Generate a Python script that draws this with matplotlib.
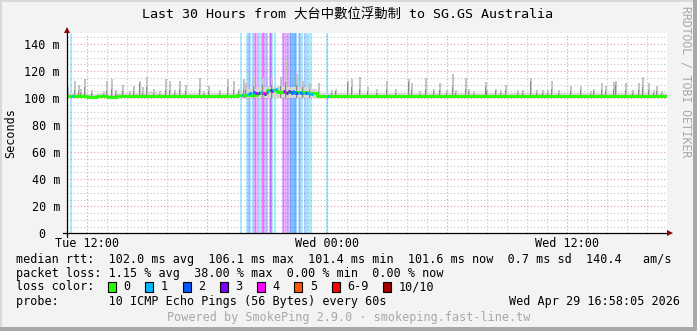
import matplotlib
matplotlib.use("Agg")
import matplotlib.pyplot as plt
from matplotlib.patches import Rectangle
import numpy as np

# ---- data: hours since Tue 11:00, latency in ms ----
# median rtt, one value every 30 min
median_ms = [
    101.3, 101.3, 101.2, 101.3, 101.2, 101.3, 101.8, 101.9, 101.8, 101.8,
    101.4, 101.8, 101.9, 101.4, 101.8, 101.4, 101.8, 102.0, 102.3, 104.0,
    105.8, 104.6, 104.5, 104.2, 103.6, 101.8, 101.6, 101.5, 101.6, 101.5,
    101.6, 101.4, 101.5, 101.6, 101.5, 101.6, 101.5, 101.4, 101.5, 101.6,
    101.5, 101.5, 101.6, 101.4, 101.5, 101.6, 101.5, 101.5, 101.4, 101.5,
    101.6, 101.3, 101.5, 101.6, 101.5, 101.6, 101.5, 101.4, 101.5, 101.6,
    101.6,
]
# upper edge of the continuous smoke band, every 30 min
smoke_band_ms = [
    103.5, 103.8, 103.2, 103.6, 103.4, 103.8, 104.0, 103.9, 104.2, 103.8,
    103.6, 104.0, 104.1, 103.6, 104.0, 103.7, 104.0, 104.5, 106.5, 108.0,
    108.5, 109.0, 108.5, 108.0, 107.0, 104.0, 103.8, 103.7, 103.9, 103.6,
    103.8, 103.6, 103.7, 103.9, 103.6, 103.8, 103.7, 103.5, 103.8, 103.9,
    103.6, 103.7, 103.9, 103.5, 103.6, 103.8, 103.7, 103.6, 103.5, 103.7,
    103.8, 103.5, 103.7, 103.9, 103.6, 103.8, 103.7, 103.5, 103.7, 103.8,
    103.8,
]
# smoke spikes: time, highest ping, dark inner part
spike_hours = [
    0.05, 0.4, 0.6, 0.7, 0.9, 1.25, 1.85, 2.0, 2.25, 2.45,
    2.8, 3.15, 3.35, 3.65, 3.8, 4.0, 4.35, 4.65, 4.95, 5.15,
    5.4, 5.65, 5.95, 6.65, 6.85, 7.1, 7.65, 8.05, 8.35, 8.6,
    8.85, 8.95, 9.35, 9.8, 10.25, 10.7, 10.95, 11.5, 11.8, 12.15,
    12.6, 13.25, 13.45, 14.05, 14.25, 14.65, 15.05, 15.5, 16.0, 16.45,
    17.1, 17.25, 17.65, 17.95, 18.35, 18.65, 19.0, 19.3, 19.45, 19.95,
    20.1, 20.35, 20.95, 21.0, 21.45, 21.7, 21.95, 22.55, 22.8, 23.2,
    23.5, 23.8, 24.05, 24.25, 24.6, 25.2, 25.7, 26.2, 26.35, 26.75,
    26.95, 27.35, 27.45, 27.95, 28.3, 28.6, 28.8, 29.1, 29.35, 29.5,
    29.75,
]
spike_top_ms = [
    108.0, 112.6, 110.0, 107.0, 114.0, 106.0, 105.0, 112.6, 114.0, 106.0,
    110.0, 105.0, 109.0, 113.0, 108.0, 115.8, 107.0, 105.0, 114.0, 112.6,
    106.0, 113.0, 110.0, 114.6, 105.0, 109.0, 106.0, 114.0, 113.0, 107.0,
    114.0, 111.0, 115.6, 114.6, 114.6, 115.6, 130.0, 118.0, 113.0, 111.0,
    111.0, 106.0, 107.0, 113.0, 114.0, 116.0, 108.0, 107.0, 113.0, 107.0,
    114.0, 111.0, 105.0, 114.6, 107.0, 111.0, 106.0, 117.6, 106.0, 115.0,
    107.0, 105.0, 112.0, 107.0, 107.0, 106.0, 110.0, 106.0, 106.0, 114.6,
    106.0, 106.0, 106.0, 113.0, 106.0, 109.0, 109.0, 105.0, 107.0, 111.0,
    109.0, 112.0, 113.0, 111.0, 106.0, 111.0, 116.0, 111.0, 106.0, 109.0,
    105.0,
]
spike_dark_ms = [
    104.0, 106.0, 105.0, 104.0, 108.0, 104.0, 103.0, 105.0, 107.0, 104.0,
    105.0, 103.0, 105.0, 111.0, 104.0, 108.0, 104.0, 103.0, 106.0, 106.0,
    104.0, 107.0, 105.0, 107.0, 103.0, 105.0, 104.0, 108.0, 106.0, 105.0,
    107.0, 106.0, 109.0, 110.0, 110.0, 109.0, 112.0, 110.0, 108.0, 106.0,
    105.0, 104.0, 105.0, 111.0, 108.0, 107.0, 105.0, 104.0, 107.0, 104.0,
    112.0, 106.0, 103.0, 107.0, 105.0, 106.0, 104.0, 108.0, 104.0, 107.0,
    105.0, 103.0, 108.0, 105.0, 105.0, 104.0, 106.0, 104.0, 104.0, 112.0,
    104.0, 104.0, 104.0, 107.0, 104.0, 105.0, 106.0, 103.0, 105.0, 106.0,
    105.0, 107.0, 110.0, 106.0, 104.0, 106.0, 108.0, 106.0, 104.0, 105.0,
    103.0,
]
# samples with packet loss: time, pings lost (of 10), median rtt
loss_hours = [
    0.2, 8.7, 9.0, 9.1, 9.15, 9.3, 9.4, 9.45, 9.55, 9.65,
    9.75, 9.8, 9.85, 9.95, 10.0, 10.15, 10.2, 10.25, 10.4, 10.8,
    10.85, 10.95, 11.05, 11.15, 11.2, 11.25, 11.3, 11.35, 11.4, 11.45,
    11.6, 11.65, 11.75, 11.9, 12.0, 12.1, 12.2, 13.0,
]
loss_counts = [
    1, 1, 1, 2, 1, 2, 3, 4, 2, 1,
    4, 4, 3, 4, 1, 3, 3, 1, 1, 3,
    4, 3, 3, 2, 2, 1, 2, 1, 2, 2,
    1, 2, 1, 2, 1, 1, 1, 1,
]
loss_rtt_ms = [
    101.3, 102.0, 103.0, 104.0, 103.5, 104.5, 104.0, 103.5, 104.0, 104.5,
    103.5, 104.0, 103.0, 104.5, 105.0, 106.0, 105.5, 106.0, 106.5, 105.0,
    104.5, 104.0, 105.0, 104.5, 104.0, 105.0, 104.5, 104.0, 103.5, 104.0,
    104.5, 104.0, 103.5, 104.0, 103.5, 103.0, 103.0, 101.6,
]

loss_labels = ["0", "1", "2", "3", "4", "5", "6-9", "10/10"]
loss_palette = ["#26ff00", "#00b8ff", "#0059ff", "#7e00ff", "#ff00ff",
                "#ff5500", "#ff0000", "#a10000"]

xtick_hours = [1, 13, 25]
xtick_labels = ["Tue 12:00", "Wed 00:00", "Wed 12:00"]
ytick_values = [0, 20, 40, 60, 80, 100, 120, 140]
ytick_labels = ["0  ", "20 m", "40 m", "60 m", "80 m", "100 m", "120 m", "140 m"]

title = "Last 30 Hours from 大台中數位浮動制 to SG.GS Australia"
rtt_stats = [102.0, 106.1, 101.4, 101.6, 0.7, 140.4]
loss_stats = [1.15, 38.00, 0.00, 0.00]


def loss_color(n):
    if n >= 10:
        return loss_palette[7]
    if n >= 6:
        return loss_palette[6]
    return loss_palette[n]


W, H = 697, 331
MONO = ["DejaVu Sans Mono", "Noto Sans CJK TC"]
BG = "#f3f3f3"

fig = plt.figure(figsize=(W / 100, H / 100), dpi=100, facecolor=BG)


def fx(x):
    return x / W


def fy(y):
    return 1 - y / H


ax = fig.add_axes([fx(66.7), fy(233.3), 600 / W, 200 / H])
ax.set_facecolor("white")
ax.set_xlim(0, 30)
ax.set_ylim(0, 148)
for s in ax.spines.values():
    s.set_visible(False)

# grid
for h in range(1, 30):
    major = (h - 1) % 6 == 0
    ax.axvline(h, color="#e09a9a" if major else "#c4c4c4", lw=0.8,
               ls=(0, (1, 2)), zorder=0.5)
for v in range(5, 148, 5):
    major = v % 20 == 0
    ax.axhline(v, color="#e09a9a" if major else "#c4c4c4", lw=0.8,
               ls=(0, (1, 2)), zorder=0.5)

# loss background
for h, n in zip(loss_hours, loss_counts):
    ax.axvspan(h - 0.015, h + 0.085, color=loss_color(n), alpha=0.31, lw=0, zorder=1)

t = np.arange(len(median_ms)) * 0.5
ax.fill_between(t, 100, smoke_band_ms, step="post", color="#d6d6d6", lw=0, zorder=2)
sb = np.array(spike_top_ms)
sd = np.array(spike_dark_ms)
ax.bar(spike_hours, sb - 100, bottom=100, width=0.11, color="#c4c4c4", lw=0, zorder=2.1)
ax.bar(spike_hours, sd - 100, bottom=100, width=0.05, color="#8a8a8a", lw=0, zorder=2.2)

ax.step(t, median_ms, where="post", color=loss_palette[0], lw=2.1, zorder=3)
ax.hlines(loss_rtt_ms, loss_hours, np.array(loss_hours) + 0.1,
          colors=[loss_color(n) for n in loss_counts], lw=2.1, zorder=3.1)

# axes with arrows
ax.plot([-0.2, 30.0], [0, 0], color="black", lw=0.9, clip_on=False, zorder=4)
ax.plot([0, 0], [-3, 149], color="black", lw=0.9, clip_on=False, zorder=4)
ax.plot([30.15], [0], marker=">", ms=4.5, color="#8b0000", mew=0, clip_on=False, zorder=5)
ax.plot([0], [150.5], marker="^", ms=4.5, color="#8b0000", mew=0, clip_on=False, zorder=5)

ax.set_xticks(xtick_hours)
ax.set_xticklabels(xtick_labels, family=MONO, fontsize=8.5)
ax.set_yticks(ytick_values)
ax.set_yticklabels(ytick_labels, family=MONO, fontsize=8.5)
ax.tick_params(axis="x", length=0, pad=3)
ax.tick_params(axis="y", length=0, pad=4.8)

fig.text(fx(11), fy(133), "Seconds", rotation=90, ha="center", va="center",
         fontsize=8.5, family=MONO)

# frame
fig.add_artist(Rectangle((0, 0), fx(2), 1, transform=fig.transFigure,
                         color="#d9d9d9", lw=0))
fig.add_artist(Rectangle((0, fy(2)), 1, 2 / H, transform=fig.transFigure,
                         color="#d9d9d9", lw=0))
fig.add_artist(Rectangle((fx(693), 0), 4 / W, 1, transform=fig.transFigure,
                         color="#a9a9a9", lw=0))
fig.add_artist(Rectangle((0, 0), 1, 4 / H, transform=fig.transFigure,
                         color="#a9a9a9", lw=0))

fig.text(fx(347.3), fy(15), title, ha="center", va="center",
         fontsize=9.6, family=MONO)
fig.text(fx(685.7), fy(81.5), "RRDTOOL / TOBI OETIKER", rotation=270,
         ha="center", va="center", fontsize=8.3, family=MONO, color="#a8a8a8")

line1 = ("median rtt:  %.1f ms avg  %.1f ms max  %.1f ms min  %.1f ms now  "
         "%.1f ms sd  %.1f   am/s" % tuple(rtt_stats))
line2 = "packet loss: %.2f %% avg  %.2f %% max  %.2f %% min  %.2f %% now" % tuple(loss_stats)
fig.text(fx(16), fy(259), line1, ha="left", va="center", fontsize=8.5, family=MONO)
fig.text(fx(16), fy(273), line2, ha="left", va="center", fontsize=8.5, family=MONO)
fig.text(fx(16), fy(287), "loss color:", ha="left", va="center", fontsize=8.5, family=MONO)

bx = 108.0
for lab, col in zip(loss_labels, loss_palette):
    fig.add_artist(Rectangle((fx(bx), fy(292)), 8 / W, 10 / H,
                             transform=fig.transFigure, facecolor=col,
                             edgecolor="black", lw=0.8))
    fig.text(fx(bx + 15.6), fy(287), lab, ha="left", va="center",
             fontsize=8.5, family=MONO)
    bx = bx + 15.6 + len(lab) * 7.05 + 14.6

fig.text(fx(16), fy(301), "probe:       10 ICMP Echo Pings (56 Bytes) every 60s",
         ha="left", va="center", fontsize=8.5, family=MONO)
fig.text(fx(680), fy(301), "Wed Apr 29 16:58:05 2026", ha="right", va="center",
         fontsize=8.5, family=MONO)
fig.text(fx(348.5), fy(318), "Powered by SmokePing 2.9.0 · smokeping.fast-line.tw",
         ha="center", va="center", fontsize=8.5, family=MONO, color="#a8a8a8")

fig.savefig("out.png", dpi=100, facecolor=BG)
